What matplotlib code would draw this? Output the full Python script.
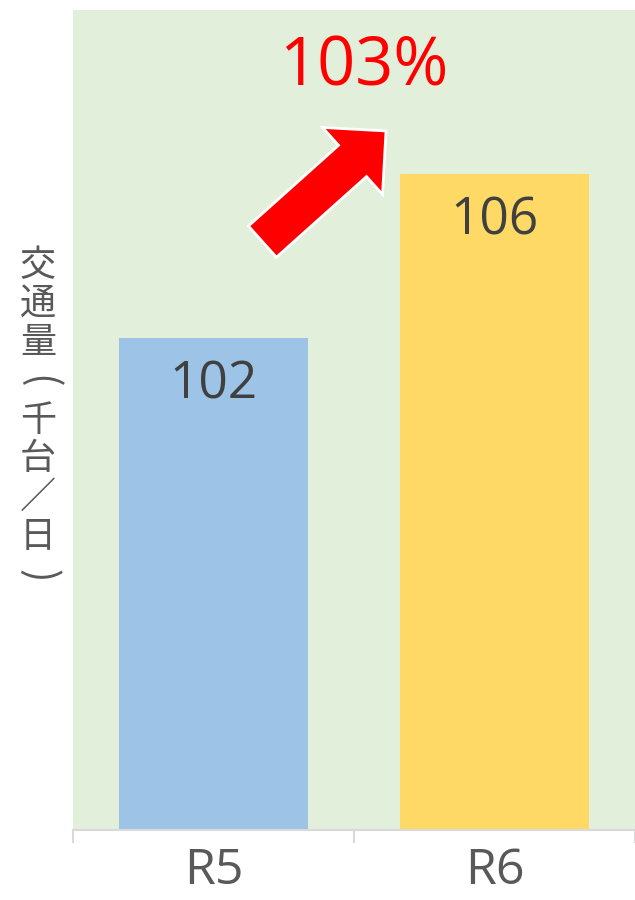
import numpy as np
import matplotlib
matplotlib.use("Agg")
import matplotlib.pyplot as plt
from matplotlib.patches import Polygon
from matplotlib.transforms import IdentityTransform

plt.rcParams['font.family'] = ['Open Sans', 'Noto Sans CJK JP', 'DejaVu Sans']

# データ
categories = ["R5", "R6"]
values = [102, 106]
bar_colors = ["#9DC3E6", "#FFD966"]
ratio_label = "103%"
ylabel_text = "交通量(千台／日)"

fig = plt.figure(figsize=(6.35, 9), dpi=100)
ax = fig.add_axes([73 / 635, 70 / 900, 562 / 635, 820 / 900])
ax.set_facecolor("#E2EFDA")

x = np.arange(len(categories))
ax.bar(x, values, width=0.67, color=bar_colors, zorder=2)
ax.set_xlim(-0.5, len(categories) - 0.5)
ax.set_ylim(90, 110)

# 数値ラベル
for xi, v in zip(x, values):
    ax.annotate(str(v), xy=(xi, v), xytext=(0, -29.5), textcoords="offset points",
                ha="center", va="center_baseline", fontsize=37, color="#404040", zorder=3)

# 軸
for s in ["top", "right", "left"]:
    ax.spines[s].set_visible(False)
ax.spines["bottom"].set_color("#D9D9D9")
ax.spines["bottom"].set_linewidth(1.5)
ax.set_yticks([])
ax.set_xticks(x)
ax.set_xticklabels(categories, fontsize=36, color="#595959")
ax.tick_params(axis="x", which="major", length=0, pad=12)
ax.set_xticks(np.arange(-0.5, len(categories), 1.0), minor=True)
ax.tick_params(axis="x", which="minor", length=9.5, width=1.5, color="#D9D9D9")

# 縦書きの軸ラベル（括弧は90度回転）
for i, ch in enumerate(ylabel_text):
    y_px = 900 - (266 + i * 38.7)
    if ch in "()":
        fig.text(38 / 635, y_px / 900, ch, ha="center", va="center", rotation=-90,
                 fontsize=29, color="#595959", family="Noto Sans CJK JP")
    else:
        fig.text(38 / 635, y_px / 900, ch, ha="center", va="center",
                 fontsize=26, color="#595959", family="Noto Sans CJK JP")

# 伸び率
ax.text(0.536, 108.78, ratio_label, ha="center", va="center_baseline", fontsize=48,
        color="#FF0000", zorder=4)

# 矢印（ピクセル座標で作図）
fig.canvas.draw()
tail = ax.transData.transform((0.174, 104.35))
tip = ax.transData.transform((0.614, 107.05))
d = tip - tail
u = d / np.hypot(*d)
n = np.array([-u[1], u[0]])
w, h, hl = 21, 45, 45
base = tip - hl * u
verts = [tail + w * n, base + w * n, base + h * n, tip,
         base - h * n, base - w * n, tail - w * n]
arrow = Polygon(verts, closed=True, facecolor="#FF0000", edgecolor="white",
                linewidth=2, transform=IdentityTransform(), clip_on=False, zorder=5)
fig.patches.append(arrow)
arrow.set_figure(fig)

fig.savefig("out.png", dpi=100)
